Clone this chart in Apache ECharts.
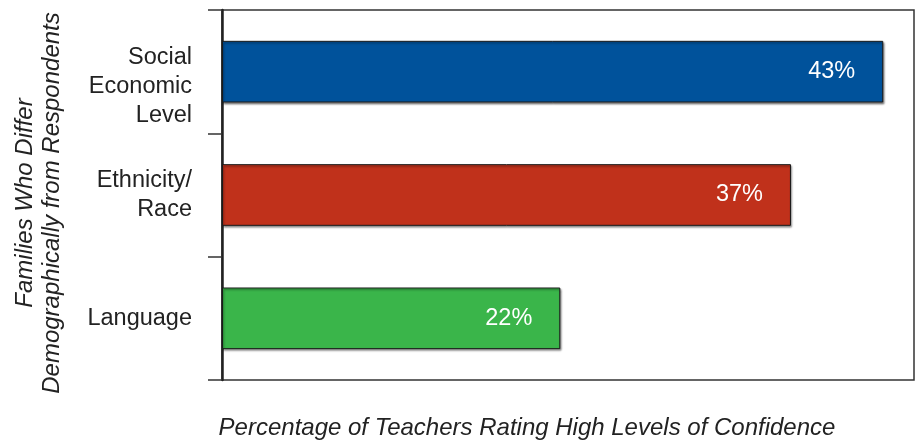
<!DOCTYPE html>
<html><head><meta charset="utf-8">
<script src="https://cdn.jsdelivr.net/npm/echarts@6/dist/echarts.min.js"></script>
<style>html,body{margin:0;padding:0;background:#fff}#c{width:918px;height:440px}</style>
</head><body><div id="c"></div>
<script>
const categories = ['Social\nEconomic\nLevel', 'Ethnicity/\nRace', 'Language'];
const values = [43, 37, 22];
const colors = ['#00529B', '#C0311B', '#3AB54A'];
const xName = 'Percentage of Teachers Rating High Levels of Confidence';
const yName = 'Families Who Differ\nDemographically from Respondents';

const chart = echarts.init(document.getElementById('c'));
chart.setOption({
  animation: false,
  textStyle: {fontFamily: 'Liberation Sans, Arial, sans-serif'},
  grid: {left: 222, right: 4, top: 10, bottom: 60, show: true, borderColor: '#333', borderWidth: 1.5, outerBoundsMode: 'none', containLabel: false},
  xAxis: {
    type: 'value', min: 0, max: 45,
    axisLabel: {show: false}, splitLine: {show: false}, axisTick: {show: false},
    axisLine: {show: false},
    name: xName, nameLocation: 'middle', nameGap: 36,
    nameTextStyle: {fontSize: 24, fontStyle: 'italic', color: '#222', padding: [0, 82, 0, 0]}
  },
  yAxis: {
    type: 'category', data: categories, inverse: true,
    axisLine: {show: true, lineStyle: {color: '#222', width: 2.5}},
    axisTick: {show: true, length: 14, lineStyle: {color: '#333', width: 1.5}},
    axisLabel: {fontSize: 23.5, color: '#222', lineHeight: 29, margin: 30, align: 'right',
      formatter: (v, i) => (v.split('\n').length > 2 ? '\n' : '') + v},
    name: yName, nameLocation: 'middle', nameGap: 156, nameRotate: 90,
    nameTextStyle: {fontSize: 24, fontStyle: 'italic', color: '#222', lineHeight: 27, padding: [0, 16, 0, 0]}
  },
  series: [{
    type: 'bar', barWidth: '50%',
    data: values.map((v, i) => ({value: v, itemStyle: {color: colors[i]}})),
    itemStyle: {borderColor: '#1a1a1a', borderWidth: 1, shadowBlur: 2, shadowOffsetX: 1, shadowOffsetY: 1.5, shadowColor: 'rgba(0,0,0,0.45)'},
    label: {show: true, position: 'insideRight', distance: 28, color: '#fff', fontSize: 23.5, formatter: '{c}%'}
  }]
});
</script></body></html>
